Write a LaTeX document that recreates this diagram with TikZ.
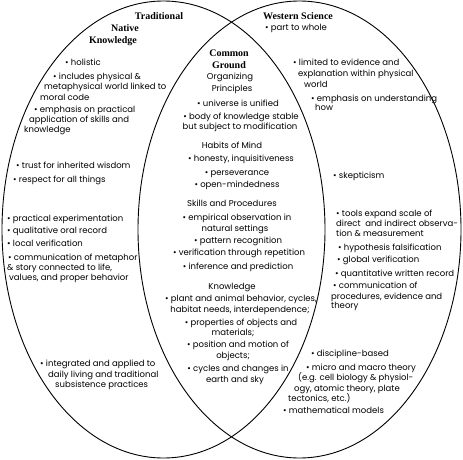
\documentclass[tikz,border=0pt]{standalone}
\usepackage{fontspec}
\newfontfamily\bodyf{Poppins}
\newfontfamily\titlef{Liberation Serif}
\begin{document}
\begin{tikzpicture}[x=1pt,y=1pt,
  ell/.style={draw=black,line width=0.9pt},
  tl/.style={font=\titlef\bfseries\fontsize{10}{12}\selectfont,inner sep=0pt,anchor=base},
  tlw/.style={tl,anchor=base west},
  c/.style={font=\bodyf\fontsize{8.5}{9}\selectfont,inner sep=0pt,anchor=base},
  w/.style={c,anchor=base west}]
\useasboundingbox (0,0) rectangle (463,-460);
\fill[white] (0,0) rectangle (463,-460);
\draw[ell] (163.5,-229.5) ellipse [x radius=161.5, y radius=228.5];
\draw[ell] (299.5,-229.5) ellipse [x radius=161.5, y radius=228.5];
% titles
\node[tl] (t1) at (159,-20) {Traditional};
\node[tl] (t2) at (125,-32) {Native};
\node[tl] (t3) at (113,-44) {Knowledge};
\node[tlw] (t4) at (263,-20) {Western Science};
\node[tl] (t5) at (229,-57) {Common};
\node[tl] (t6) at (229,-69) {Ground};
% common ground
\node[c] (c1) at (230,-79) {Organizing};
\node[c] (c2) at (232,-92) {Principles};
\node[c] (c3) at (238,-106) {\textbullet\ universe is unified};
\node[c] (c4) at (241,-119) {\textbullet\ body of knowledge stable};
\node[c] (c5) at (240,-129) {but subject to modification};
\node[c] (c6) at (232,-148) {Habits of Mind};
\node[c] (c7) at (241,-161) {\textbullet\ honesty, inquisitiveness};
\node[c] (c8) at (237,-175) {\textbullet\ perseverance};
\node[c] (c9) at (237,-187) {\textbullet\ open-mindedness};
\node[c] (c10) at (232,-206) {Skills and Procedures};
\node[c] (c11) at (237,-220) {\textbullet\ empirical observation in};
\node[c] (c12) at (235,-231) {natural settings};
\node[c] (c13) at (238,-243) {\textbullet\ pattern recognition};
\node[c] (c14) at (239,-255) {\textbullet\ verification through repetition};
\node[c] (c15) at (238,-269) {\textbullet\ inference and prediction};
\node[c] (c16) at (232,-289) {Knowledge};
\node[c] (c17) at (241,-301) {\textbullet\ plant and animal behavior, cycles,};
\node[c] (c18) at (240,-312) {habitat needs, interdependence;};
\node[c] (c19) at (241,-325) {\textbullet\ properties of objects and};
\node[c] (c20) at (233,-335) {materials;};
\node[c] (c21) at (238,-347) {\textbullet\ position and motion of};
\node[c] (c22) at (233,-358) {objects;};
\node[c] (c23) at (238,-371) {\textbullet\ cycles and changes in};
\node[c] (c24) at (235,-382) {earth and sky};
% left column
\node[w] (l1) at (65,-66) {\textbullet\ holistic};
\node[w] (l2) at (53,-80) {\textbullet\ includes physical \&};
\node[w] (l3) at (44,-89) {metaphysical world linked to};
\node[w] (l4) at (40,-100) {moral code};
\node[w] (l5) at (34,-112) {\textbullet\ emphasis on practical};
\node[w] (l6) at (29,-122) {application of skills and};
\node[w] (l7) at (24,-132) {knowledge};
\node[w] (l8) at (16,-168) {\textbullet\ trust for inherited wisdom};
\node[w] (l9) at (13,-182) {\textbullet\ respect for all things};
\node[w] (l10) at (7,-221) {\textbullet\ practical experimentation};
\node[w] (l11) at (7,-233) {\textbullet\ qualitative oral record};
\node[w] (l12) at (7,-246) {\textbullet\ local verification};
\node[w] (l13) at (8,-260) {\textbullet\ communication of metaphor};
\node[w] (l14) at (7,-270) {\& story connected to life,};
\node[w] (l15) at (9,-280) {values, and proper behavior};
\node[w] (l16) at (40,-366) {\textbullet\ integrated and applied to};
\node[w] (l17) at (48,-377) {daily living and traditional};
\node[w] (l18) at (55,-387) {subsistence practices};
% right column
\node[w] (r1) at (265,-31) {\textbullet\ part to whole};
\node[w] (r2) at (293,-66) {\textbullet\ limited to evidence and};
\node[w] (r3) at (298,-77) {explanation within physical};
\node[w] (r4) at (304,-87) {world};
\node[w] (r5) at (311,-101) {\textbullet\ emphasis on understanding};
\node[w] (r6) at (315,-110) {how};
\node[w] (r7) at (333,-178) {\textbullet\ skepticism};
\node[w] (r8) at (336,-216) {\textbullet\ tools expand scale of};
\node[w] (r9) at (336,-226) {direct\ \ and indirect observa-};
\node[w] (r10) at (336,-236) {tion \& measurement};
\node[w] (r11) at (338,-250) {\textbullet\ hypothesis falsification};
\node[w] (r12) at (337,-262) {\textbullet\ global verification};
\node[w] (r13) at (335,-276) {\textbullet\ quantitative written record};
\node[w] (r14) at (333,-288) {\textbullet\ communication of};
\node[w] (r15) at (331,-299) {procedures, evidence and};
\node[w] (r16) at (331,-308) {theory};
\node[w] (r17) at (311,-356) {\textbullet\ discipline-based};
\node[w] (r18) at (306,-370) {\textbullet\ micro and macro theory};
\node[w] (r19) at (298,-380) {(e.g. cell biology \& physiol-};
\node[w] (r20) at (294,-391) {ogy, atomic theory, plate};
\node[w] (r21) at (288,-401) {tectonics, etc.)};
\node[w] (r22) at (283,-413) {\textbullet\ mathematical models};
\end{tikzpicture}
\end{document}
